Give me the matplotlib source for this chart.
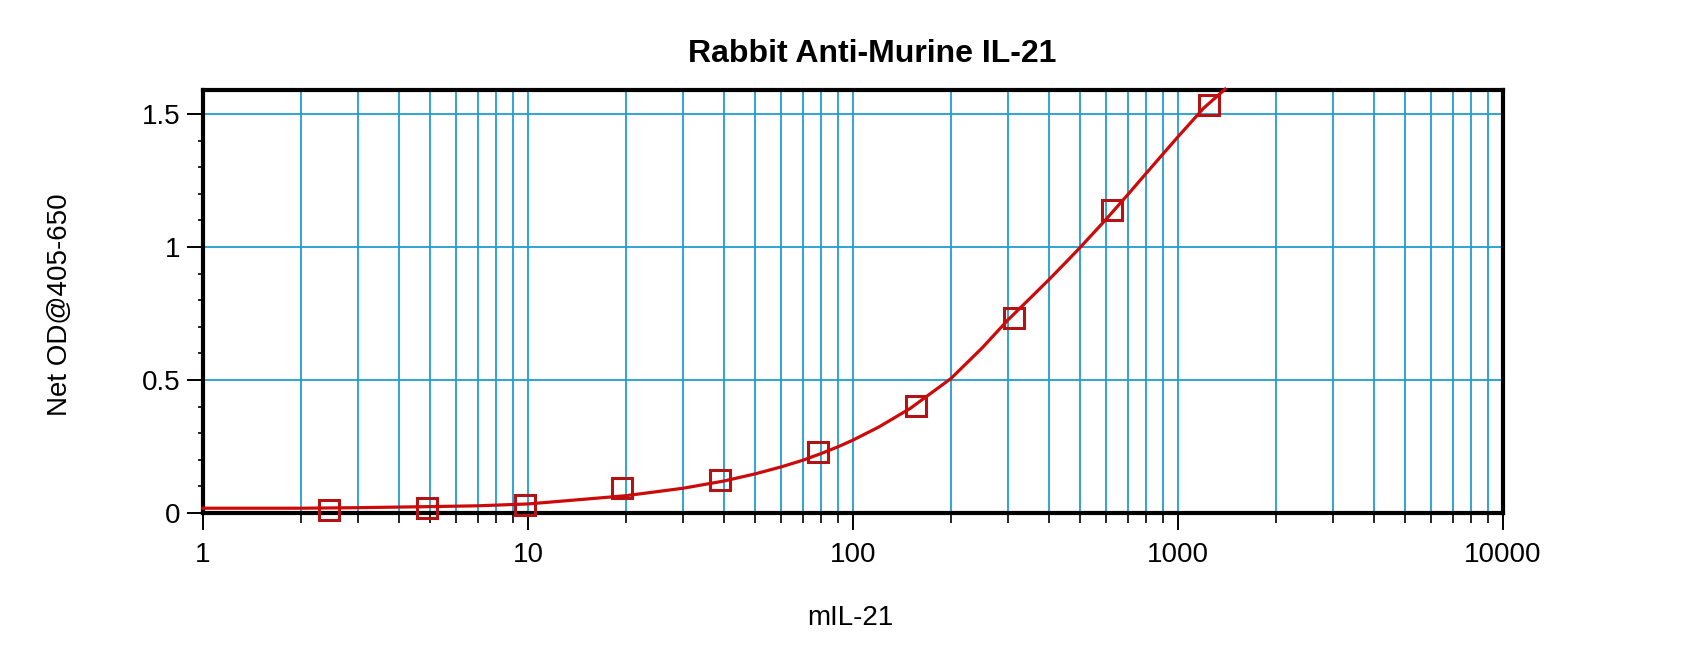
import matplotlib
matplotlib.use("Agg")
import matplotlib.pyplot as plt
from matplotlib.ticker import FixedLocator, NullFormatter, LogLocator

plt.rcParams["font.family"] = ["Liberation Sans", "DejaVu Sans"]

# ---------------------------------------------------------
# Datos
# ---------------------------------------------------------
titulo = "Rabbit Anti-Murine IL-21"
etiqueta_x = "mIL-21"
etiqueta_y = "Net OD@405-650"

# puntos estandar (diluciones 1:2)
std_conc = [2.44, 4.88, 9.77, 19.5, 39.1, 78.1, 156.3, 312.5, 625, 1250]
std_od = [0.011, 0.020, 0.030, 0.095, 0.124, 0.228, 0.404, 0.732, 1.139, 1.534]

# curva ajustada (leida punto a punto)
curve_conc = [1, 2, 3, 5, 7, 10, 15, 20, 30, 40, 50, 60, 70, 80, 90, 100, 120,
              150, 200, 250, 300, 350, 400, 450, 500, 600, 700, 800, 900, 1000,
              1200, 1396]
curve_od = [0.018, 0.018, 0.020, 0.024, 0.027, 0.034, 0.052, 0.065, 0.093, 0.120,
            0.147, 0.173, 0.198, 0.224, 0.249, 0.274, 0.323, 0.393, 0.505, 0.621,
            0.726, 0.806, 0.876, 0.940, 0.998, 1.103, 1.196, 1.278, 1.350, 1.414,
            1.522, 1.593]

y_ticks = [0, 0.5, 1, 1.5]
y_tick_labels = ["0", "0.5", "1", "1.5"]
x_ticks = [1, 10, 100, 1000, 10000]
x_tick_labels = ["1", "10", "100", "1000", "10000"]

# ---------------------------------------------------------
# Grafico
# ---------------------------------------------------------
azul = "#1f9ed1"
rojo = "#cc0a0a"

fig = plt.figure(figsize=(17, 6.52), dpi=100)
ax = fig.add_axes([0.1194, 0.2132, 0.7647, 0.6488])

ax.set_xscale("log")
ax.set_xlim(1, 10000)
ax.set_ylim(0, 1.59)

ax.plot(std_conc, std_od, linestyle="none", marker="s", markersize=15,
        markerfacecolor="none", markeredgecolor="#b01414", markeredgewidth=2.2,
        zorder=6, clip_on=False)
ax.plot(curve_conc, curve_od, color=rojo, linewidth=2.3, zorder=7, clip_on=False,
        solid_joinstyle="round")

# ejes y ticks
ax.yaxis.set_major_locator(FixedLocator(y_ticks))
ax.set_yticklabels(y_tick_labels)
ax.yaxis.set_minor_locator(FixedLocator([i / 10 for i in range(16) if i % 5 != 0]))
ax.xaxis.set_major_locator(FixedLocator(x_ticks))
ax.set_xticklabels(x_tick_labels)
ax.xaxis.set_minor_locator(LogLocator(base=10, subs=range(2, 10)))
ax.xaxis.set_minor_formatter(NullFormatter())

ax.tick_params(axis="y", which="major", length=11.5, width=1.4, pad=5, labelsize=20)
ax.tick_params(axis="y", which="minor", length=3.6, width=1.2)
ax.tick_params(axis="x", which="major", length=12, width=1.4, pad=9, labelsize=20)
ax.tick_params(axis="x", which="minor", length=7, width=1.2)

ax.grid(True, axis="x", which="both", color=azul, linewidth=1.3)
ax.grid(True, axis="y", which="major", color=azul, linewidth=1.3)
ax.set_axisbelow(True)

for s in ax.spines.values():
    s.set_linewidth(3)
    s.set_zorder(5)

fig.text(0.513, 0.917, titulo, ha="center", va="center", fontsize=23, fontweight="bold")
fig.text(0.5, 0.052, etiqueta_x, ha="center", va="center", fontsize=20)
fig.text(0.0353, 0.532, etiqueta_y, ha="center", va="center", fontsize=20, rotation=90)

fig.savefig("out.png", dpi=100)
